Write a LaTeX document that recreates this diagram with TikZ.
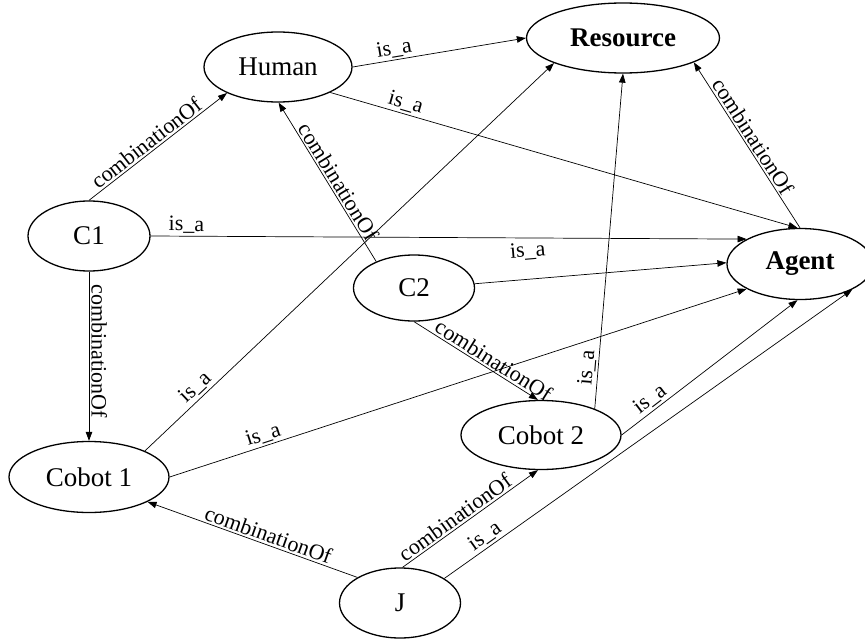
\documentclass[tikz,border=0pt]{standalone}
\usepackage{fontspec}
\setmainfont{Liberation Serif}
\usetikzlibrary{shapes.geometric,arrows.meta}
\begin{document}
\begin{tikzpicture}[x=1pt,y=-1pt,
  ent/.style={ellipse, draw, line width=1.3pt, inner sep=0pt,
    minimum height=70pt, font=\fontsize{27}{30}\selectfont},
  rel/.style={line width=0.7pt, -{Triangle[length=9pt,width=6.5pt]}},
  lbl/.style={sloped, above, inner sep=2pt, font=\fontsize{22}{24}\selectfont}
]
\useasboundingbox (0,0) rectangle (865,642);
\clip (0,0) rectangle (865,642);

% classes and individuals
\node[ent, minimum width=148pt] (human)    at (278,67)  {Human};
\node[ent, minimum width=193pt] (resource) at (623,38)  {\bfseries Resource};
\node[ent, minimum width=122pt] (c1)       at (89,236)  {C1};
\node[ent, minimum width=146pt, minimum height=71pt] (agent) at (800,264) {\bfseries Agent};
\node[ent, minimum width=121pt, minimum height=66pt] (c2) at (414,288) {C2};
\node[ent, minimum width=160pt, minimum height=71pt] (cobot1) at (89,477) {Cobot 1};
\node[ent, minimum width=160pt, minimum height=69pt] (cobot2) at (541,435) {Cobot 2};
\node[ent, minimum width=121pt] (j)        at (400,603) {J};

% relations
\draw[rel] (human.0)    -- node[lbl,pos=0.25]{is\_a} (resource.180);
\draw[rel] (human.-26.6) -- node[lbl,pos=0.155]{is\_a} (agent.94);
\draw[rel] (c1.0)       -- node[lbl,pos=0.06]{is\_a} (agent.155);
\draw[rel] (c1.north)   -- node[lbl,pos=0.46]{combinationOf} (human.207);
\draw[rel] (c1.south)   -- node[lbl,pos=0.47]{combinationOf} (cobot1.north);
\draw[rel] (c2.145)     -- node[lbl,pos=0.47]{combinationOf} (human.-89);
\draw[rel] (c2.4)       -- node[lbl,pos=0.22,above=17pt]{is\_a} (agent.179);
\draw[rel] (c2.south)   -- node[lbl,pos=0.6]{combinationOf} (cobot2.95);
\draw[rel] (cobot1.25)  -- node[lbl,pos=0.143]{is\_a} (resource.200);
\draw[rel] (cobot1.0)   -- node[lbl,pos=0.168]{is\_a} (agent.205);
\draw[rel] (cobot2.26.6) -- node[lbl,pos=0.12]{is\_a} (resource.south);
\draw[rel] (cobot2.0)   -- node[lbl,pos=0.2]{is\_a} (agent.-94);
\draw[rel] (j.149)      -- node[lbl,pos=0.44]{combinationOf} (cobot1.-23);
\draw[rel] (j.86)       -- node[lbl,pos=0.43]{combinationOf} (cobot2.-95);
\draw[rel] (j.29.5)     -- node[lbl,pos=0.115]{is\_a} (agent.-26.6);
\draw[rel] (agent.north) -- node[lbl,pos=0.52]{combinationOf} (resource.-19.7);
\end{tikzpicture}
\end{document}
